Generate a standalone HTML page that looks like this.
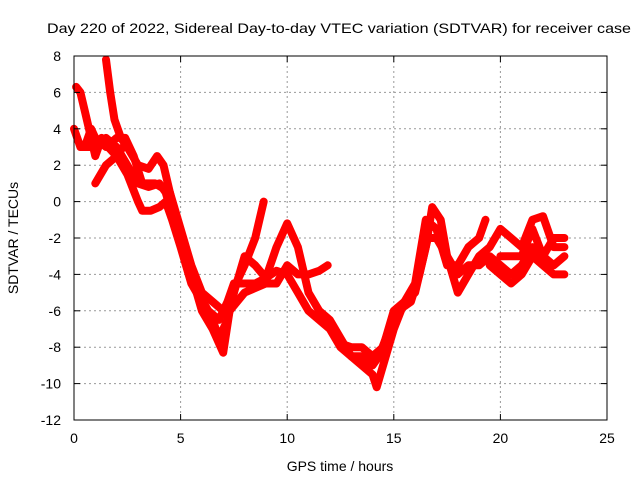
<!DOCTYPE html>
<html><head><meta charset="utf-8"><style>
body{margin:0;background:#fff;}
svg text{font-family:"Liberation Sans",sans-serif;font-size:14px;fill:#000;}
</style></head><body>
<svg id="chart" width="640" height="480" viewBox="0 0 640 480" xmlns="http://www.w3.org/2000/svg">
<rect width="640" height="480" fill="#fff"/>
<g id="grid"></g>
<g id="series"></g>
<rect x="74" y="56" width="533" height="364" fill="none" stroke="#000" stroke-width="1"/>
<g id="ticks"></g>
<text x="339" y="33" text-anchor="middle" textLength="584" lengthAdjust="spacingAndGlyphs">Day 220 of 2022, Sidereal Day-to-day VTEC variation (SDTVAR) for receiver case</text>
<text x="340" y="471" text-anchor="middle">GPS time / hours</text>
<text transform="translate(18,238) rotate(-90)" text-anchor="middle">SDTVAR / TECUs</text>
</svg>
<script>
const xTicks=[0,5,10,15,20,25];
const yTicks=[8,6,4,2,0,-2,-4,-6,-8,-10,-12];
const trackA_t=[0,0.3,1,1.5,2,2.5,3,3.5,4,4.3,4.8,5.3,5.8,6.3,6.8,7.2,7.5,8,8.5,9,9.5,10,10.5,11,11.5,12,12.5,13,13.5,14,14.3,14.8,15.2,15.8,16.2,16.6,17,17.5,18,18.5,19,19.5,20,20.5,21,21.5,22,22.5,23];
const trackA_v=[4,3,3,3.5,3,2,1,0.8,1,0.5,-1.5,-3.5,-5,-6,-6.5,-5.5,-4.5,-4.5,-4.5,-4.2,-3.8,-4,-5,-6,-6.5,-7,-8,-8.5,-8.5,-9,-8.5,-7,-6,-5.5,-4,-2,-2,-3,-4,-3.5,-3.5,-3,-3.5,-4,-3.5,-2.5,-3,-3.5,-3];
const trackB_t=[0.1,0.3,0.5,0.8,1,1.3,1.6,2,2.5,3,3.2,3.6,4,4.3,4.6,5,5.5,6,6.5,6.8,7.2,7.6,8,8.5,8.9];
const trackB_v=[6.3,6,5,3.5,2.5,3.5,3,2.5,1.5,0,-0.5,-0.5,-0.3,0,-1,-2.5,-4.5,-5.5,-6.5,-7.5,-6.5,-4.5,-3.5,-2,0];
const trackC_t=[1.5,1.7,1.9,2.2,2.5,3,3.5,3.9,4.2,4.5,5,5.5,6,6.5,7,7.5,8,8.5,9,9.5,10,10.5,11,11.5,12,12.5,13,13.5,14,14.2,14.5,15,15.5,16,16.5,16.8,17.2,17.5,18,18.5,19,19.5,20,20.5,21,21.5,22,22.5,23];
const trackC_v=[7.8,6,4.5,3.5,3,2,1.8,2.5,2,0.5,-1.5,-3.5,-5,-5.5,-6,-5,-3,-3.5,-4.2,-2.5,-1.2,-2.5,-5,-6,-6.5,-7.5,-8.5,-9,-9.5,-10.2,-9,-7,-5.5,-5,-2.5,-0.3,-1,-3,-5,-4,-3,-2.5,-1.5,-2,-2.5,-1,-0.8,-2.5,-2.5];
const trackD_t=[0.5,0.8,1,1.5,2,2.4,2.8,3.2,3.8,4.5,5,5.5,6,6.5,7,7.3,8,9,9.5,10,10.5,11,11.5,11.9];
const trackD_v=[3,4,3.5,3,3.5,3.5,2.5,1,1,0.5,-2,-4,-6,-7,-8.3,-6,-5,-4.5,-4.5,-3.5,-4,-4,-3.8,-3.5];
const trackE_t=[12.5,13,13.5,14,14.5,15,15.5,16,16.5,17,17.5,18,18.5,19,19.3];
const trackE_v=[-7.8,-8,-8,-8.5,-8,-6,-5.5,-4.5,-1,-1.5,-3.5,-3.5,-2.5,-2,-1];
const trackF_t=[1,1.5,2,2.3];
const trackF_v=[1,2,2.5,3];
const trackG_t=[19.5,20,20.5,21,21.5,22,22.5,23];
const trackG_v=[-3.5,-4,-4.5,-4,-3,-3.5,-4,-4];
const trackH_t=[20,21,21.5,22,22.5,23];
const trackH_v=[-3,-3,-1.5,-3,-2,-2];
const tracks=[[trackA_t,trackA_v],[trackB_t,trackB_v],[trackC_t,trackC_v],[trackD_t,trackD_v],[trackE_t,trackE_v],[trackF_t,trackF_v],[trackG_t,trackG_v],[trackH_t,trackH_v]];

const X0=74,X1=607,Y0=420,Y1=56;
function sx(t){return X0+(t-0)/(25-0)*(X1-X0);}
function sy(v){return Y0-(v-(-12))/(8-(-12))*(Y0-Y1);}
const NS="http://www.w3.org/2000/svg";
const grid=document.getElementById('grid'),ticks=document.getElementById('ticks'),series=document.getElementById('series');
function mk(tag,attrs,parent){const e=document.createElementNS(NS,tag);for(const k in attrs)e.setAttribute(k,attrs[k]);parent.appendChild(e);return e;}
xTicks.forEach(t=>{
  const x=sx(t);
  if(t>0&&t<25){const g=mk('line',{x1:x,x2:x,y1:Y1,y2:Y0,stroke:'#999','stroke-dasharray':'2,3'},grid);
  
  }
  mk('line',{x1:x,x2:x,y1:Y0,y2:Y0-6,stroke:'#000'},ticks);
  mk('line',{x1:x,x2:x,y1:Y1,y2:Y1+6,stroke:'#000'},ticks);
  const l=mk('text',{x:x,y:443,'text-anchor':'middle'},ticks);l.textContent=t;
  
  
});
yTicks.forEach(v=>{
  const y=sy(v);
  if(v>-12&&v<8){const g=mk('line',{x1:X0,x2:X1,y1:y,y2:y,stroke:'#999','stroke-dasharray':'2,3'},grid);
  
  }
  mk('line',{x1:X0,x2:X0+6,y1:y,y2:y,stroke:'#000'},ticks);
  mk('line',{x1:X1,x2:X1-6,y1:y,y2:y,stroke:'#000'},ticks);
  const l=mk('text',{x:61,y:y+5,'text-anchor':'end'},ticks);l.textContent=v;
  
  
});
tracks.forEach((tr,i)=>{
  const pts=tr[0].map((t,j)=>sx(t).toFixed(1)+','+sy(tr[1][j]).toFixed(1)).join(' ');
  const p=mk('polyline',{points:pts,fill:'none',stroke:'#ff0000','stroke-width':8,'stroke-linejoin':'round','stroke-linecap':'round'},series);
  
  
});
</script>
</body></html>
